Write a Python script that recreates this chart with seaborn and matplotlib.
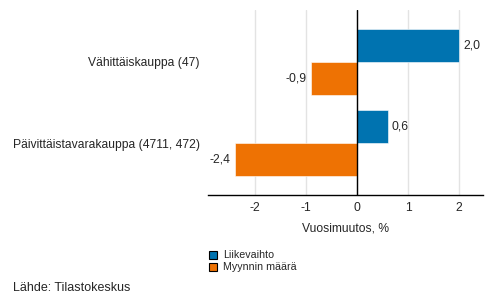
import pandas as pd
import matplotlib
matplotlib.use('Agg')
import matplotlib.pyplot as plt
import seaborn as sns
from matplotlib.patches import Patch

# Data
categories = ['Vähittäiskauppa (47)', 'Päivittäistavarakauppa (4711, 472)']
series = ['Liikevaihto', 'Myynnin määrä']
liikevaihto = [2.0, 0.6]
myynnin_maara = [-0.9, -2.4]
colors = ['#0073b0', '#ee7203']

df = pd.DataFrame({
    'kategoria': categories * 2,
    'sarja': [series[0]] * 2 + [series[1]] * 2,
    'arvo': liikevaihto + myynnin_maara,
})

sns.set_style('white')
plt.rcParams['font.family'] = ['Liberation Sans', 'DejaVu Sans']

fig = plt.figure(figsize=(4.93, 3.04), dpi=100)
ax = fig.add_axes([208 / 493, 1 - 195 / 304, 275 / 493, 185 / 304])

sns.barplot(data=df, y='kategoria', x='arvo', hue='sarja', orient='h',
            palette=colors, saturation=1, width=0.81, ax=ax, legend=False,
            edgecolor='#ffffff', linewidth=0.4, errorbar=None)

ax.set_xlim(-2.92, 2.47)
ax.set_ylim(1.64, -0.64)
ax.set_xticks([-2, -1, 0, 1, 2])
ax.set_xticklabels(['-2', '-1', '0', '1', '2'], fontsize=8.7)
ax.tick_params(axis='x', length=0, pad=5)
ax.tick_params(axis='y', length=0, pad=6, labelsize=8.7)
ax.grid(axis='x', color='#e3e3e3', linewidth=1)
ax.set_axisbelow(True)
ax.axvline(0, color='black', linewidth=1)
for s in ['top', 'right', 'left']:
    ax.spines[s].set_visible(False)
ax.spines['bottom'].set_color('black')
ax.spines['bottom'].set_linewidth(1)
ax.set_ylabel('')
ax.set_xlabel('Vuosimuutos, %', fontsize=8.7, labelpad=6)

# value labels
for cont in ax.containers:
    labels = [f'{v:.1f}'.replace('.', ',') for v in cont.datavalues]
    ax.bar_label(cont, labels=labels, padding=3, fontsize=8.7)

# legend below plot
handles = [Patch(facecolor=c, edgecolor='black', linewidth=0.8) for c in colors]
fig.legend(handles, series, loc='upper left', bbox_to_anchor=(204 / 493, 1 - 245 / 304),
           frameon=False, fontsize=7.7, handlelength=0.75, handleheight=0.75,
           handletextpad=0.5, labelspacing=0.2, borderpad=0)

fig.text(13 / 493, 1 - 288 / 304, 'Lähde: Tilastokeskus', fontsize=9, va='center')

fig.savefig('out.png', dpi=100)
